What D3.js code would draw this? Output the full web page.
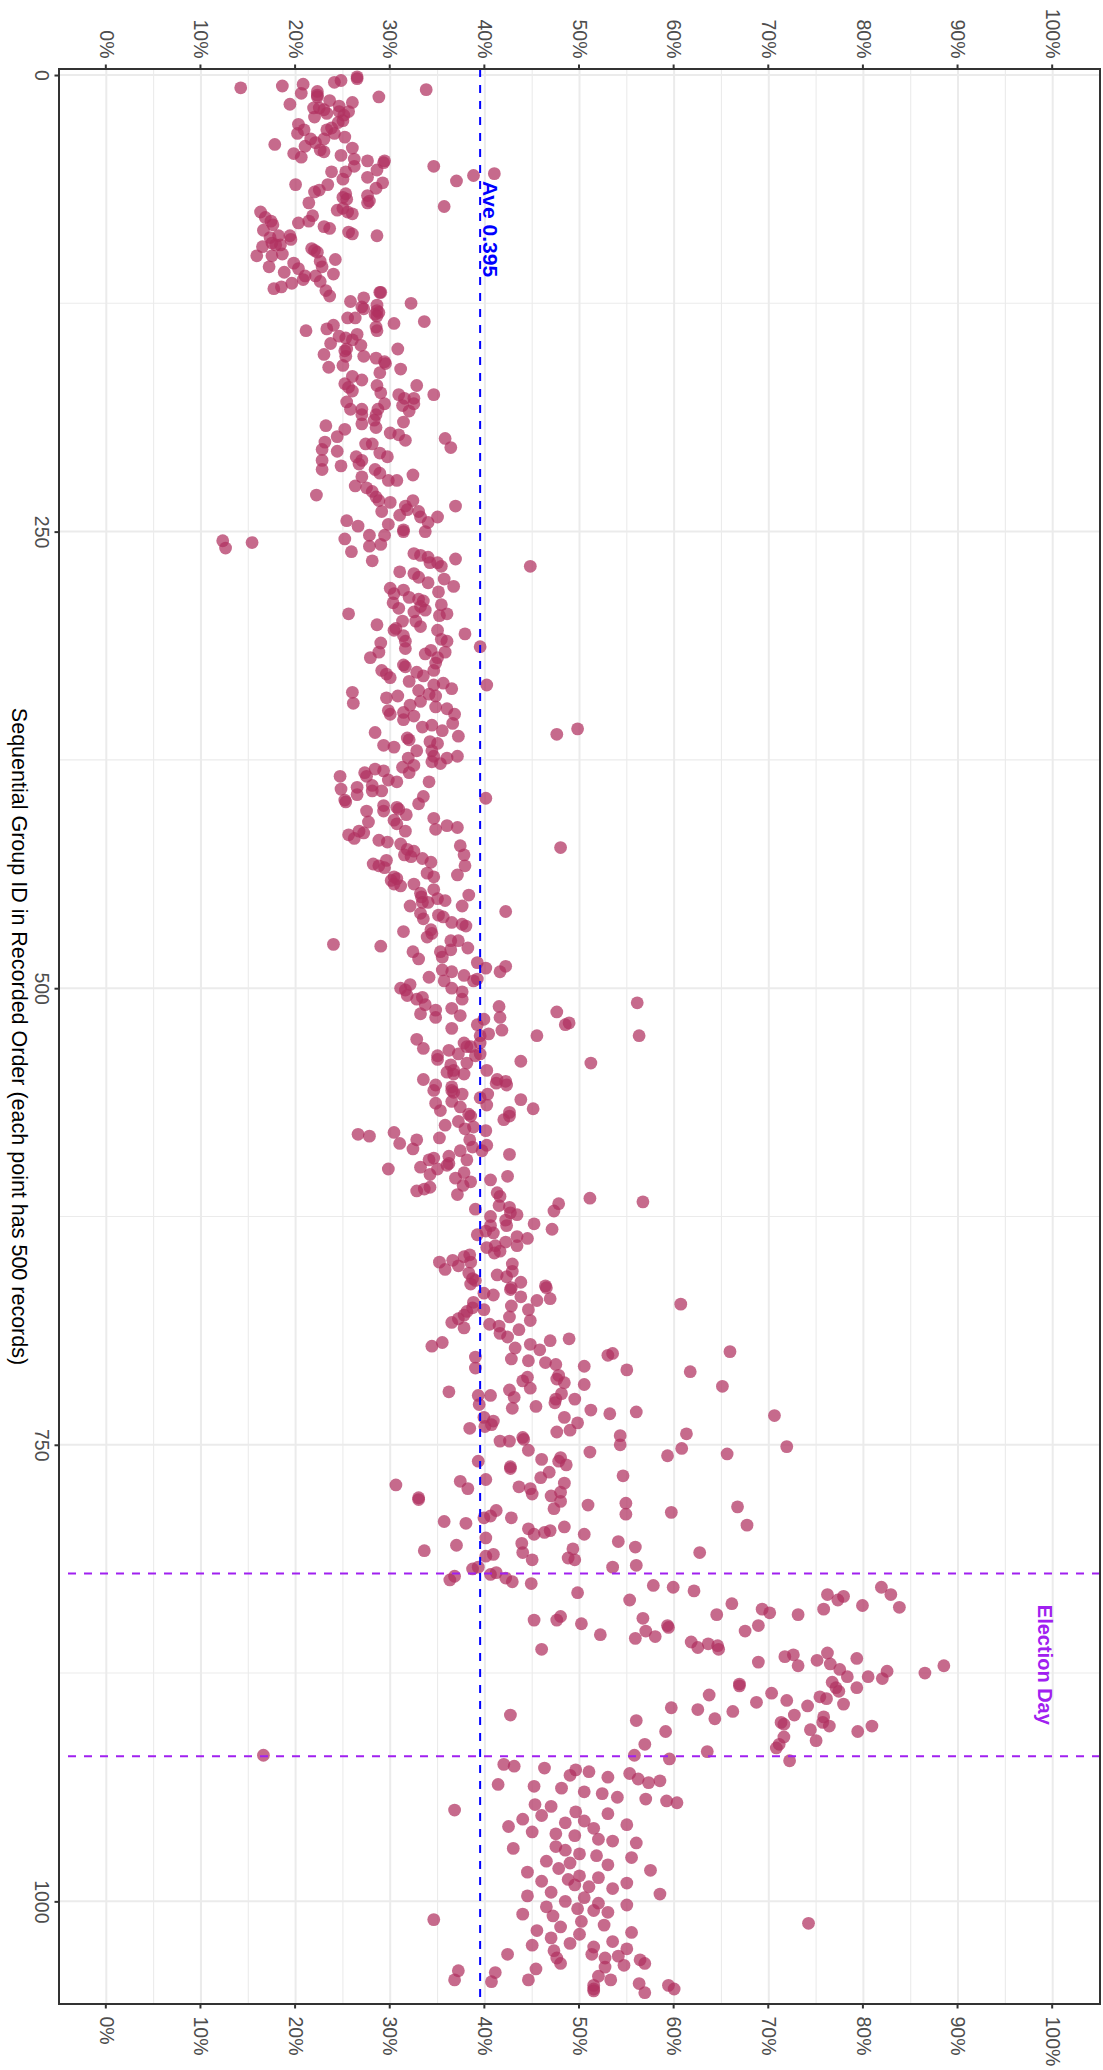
<!DOCTYPE html>
<html>
<head>
<meta charset="utf-8">
<script src="https://cdn.jsdelivr.net/npm/d3@7"></script>
<style>
  body { margin: 0; background: #fff; }
  svg { display: block; }
</style>
</head>
<body>
<svg id="chart" width="1103" height="2070"></svg>
<script>
// ---- data: [sequential group id, share %] ----
var earlyRun = [[1,26.5],[2,26.5],[3,24.8],[4,24.1],[5,20.8],[6,18.6],[7,14.2],[8,33.8],[9,22.3],[10,20.6],[11,22.3],[12,22.3],[12,28.8],[14,23.6],[15,26.0],[16,19.4],[17,24.6],[18,22.5],[18,21.9],[19,23.0],[20,24.6],[20,25.6],[21,23.3],[22,25.1],[23,22.0],[25,25.0],[26,24.5],[27,20.3],[29,23.8],[30,20.9],[30,23.3],[32,24.1],[32,20.2],[34,25.2],[35,23.0],[35,21.6],[37,22.1],[38,17.8],[39,21.0],[40,26.0],[41,22.6],[42,23.0],[43,19.8],[44,24.8],[45,20.6],[46,26.2],[47,27.6],[47,29.4],[48,29.3],[50,26.2],[50,34.6],[52,28.6],[53,23.8],[53,25.3],[54,41.0],[55,38.8],[56,27.6],[57,25.0],[58,37.0],[59,29.2],[60,20.0],[60,23.4],[62,28.5],[63,22.5],[64,22.0],[65,25.3],[66,27.6],[67,25.0],[68,25.4],[69,27.8],[70,27.6],[70,21.4],[72,35.7],[73,25.0],[74,24.4],[75,25.5],[75,16.3],[76,26.0],[77,21.8],[78,16.8],[80,21.4],[80,17.4],[81,20.3],[82,17.6],[83,23.0],[84,23.6],[85,16.6],[86,25.6],[87,26.0],[88,28.6],[88,18.2],[88,19.4],[89,17.3],
  [90,19.5],[92,17.5],[93,18.4],[93,17.9],[94,16.5],[95,21.7],[96,22.0],[97,22.3],[98,18.6],[99,15.9],[99,17.5],[101,24.2],[102,22.6],[103,19.8],[105,17.2],[105,22.8],[106,20.3],[108,18.8],[109,24.0],[110,22.1],[110,21.0],[112,20.8],[113,22.6],[114,19.6],[116,18.5],[117,17.7],[118,23.2],[119,28.9],[119,29.0],[121,23.6],[122,27.2],[124,25.8],[125,32.2],[126,28.6],[127,27.0],[128,27.2],[129,28.6],[130,28.8],[131,28.4],[132,28.6],[133,25.5],[133,26.3],[135,33.6],[136,30.4],[137,24.0],[139,23.3],[138,28.5],[140,21.1],[140,28.6],[142,26.5],[143,24.6],[144,25.3],[145,26.0],[147,23.7],[148,26.9],[150,25.4],[150,30.8],[151,25.2],[153,23.0],[154,25.3],[154,27.2],[155,28.5],[157,29.4],[158,29.5],[159,25.0],[160,23.5],[161,31.1],[163,28.9],[165,26.0],[167,27.0],[169,25.2],[170,32.8],[170,28.6],[171,25.6],[173,26.0],[174,29.0],[175,34.6],[175,30.9],[177,31.5],[177,32.5],[179,25.4],[180,32.5],[180,29.4],[181,31.3],[183,25.8],[183,28.7],[183,27.0],
  [184,32.0],[186,27.0],[186,28.5],[189,28.3],[190,31.4],[191,27.0],[192,23.2],[193,28.5],[194,25.2],[196,30.0],[197,30.9],[198,24.4],[199,35.8],[200,31.6],[201,23.1],[202,27.4],[202,28.1],[204,36.4],[205,22.8],[206,24.4],[207,28.9],[209,29.7],[209,26.4],[211,27.0],[211,22.8],[213,26.7],[214,24.8],[216,22.8],[216,28.4],[218,28.9],[219,32.4],[220,27.0],[222,29.8],[222,30.7],[225,26.3],[226,27.5],[228,28.1],[230,22.2],[231,28.5],[233,28.8],[233,32.4],[234,30.0],[236,36.9],[236,31.6],[238,31.8],[239,29.1],[239,33.0],[241,31.0],[242,35.0],[242,33.2],[244,25.4],[245,34.0],[246,29.8],[247,26.6],[249,31.4]];

var midRun = [[250,31.4],[250,33.7],[252,27.8],[252,29.4],[254,25.2],[255,12.3],[256,15.4],[257,29.0],[258,27.8],[259,12.6],[261,25.9],[262,32.5],[263,33.2],[264,34.0],[265,36.9],[266,28.1],[267,34.2],[267,35.0],[269,44.8],[269,35.4],[272,31.0],[273,32.5],[275,33.0],[276,35.7],
  [278,34.0],[280,36.7],[283,35.1],[281,30.0],[284,30.4],[282,31.4],[286,32.0],[287,33.0],[288,33.5],[291,33.2],[293,33.7],[289,30.3],[292,30.9],[290,35.4],[296,35.2],[295,36.0],[294,32.5],[299,32.7],[302,33.2],[299,31.3],[304,30.4],[303,30.6],[304,35.0],[309,35.4],[310,36.0],[307,31.4],[310,31.6],[314,31.6],[306,37.9],[313,39.5],[295,25.6],[301,28.6],[311,29.0],[316,28.8],[319,27.9],[317,33.7],[315,34.3],[319,35.0],[322,34.8],[326,34.6],[316,35.8],[323,31.4],[324,31.6],[326,29.1],[328,29.6],[330,30.0],[329,33.5],[327,32.8],[332,32.0],[337,33.0],[334,34.6],[333,35.6],[336,36.5],[334,40.2],[338,26.0],[344,26.1],[341,29.6],[340,30.8],[348,29.8],[350,30.0],[349,31.4],[353,31.4],[351,32.5],[345,32.1],[343,33.2],[339,34.1],[340,34.8],[346,34.8],[347,36.0],[350,36.8],[355,36.6],[359,35.5],[362,37.2],[357,33.4],[356,34.4],[365,34.2],[366,35.0],[360,28.4],[367,29.3],[368,30.4],[363,31.8],[364,32.0],[370,32.8],[361,47.6],[358,49.8],
  [370,34.4],[373,34.6],[373,37.1],[374,36.0],[374,31.9],[376,34.4],[377,35.3],[378,32.5],[379,31.3],[382,32.0],[380,28.4],[381,29.3],[382,27.3],[384,27.5],[384,24.7],[386,29.8],[387,30.7],[387,34.1],[389,28.1],[390,26.5],[391,24.8],[392,28.1],[392,29.1],[394,26.5],[395,33.5],[396,40.1],[397,25.2],[398,25.3],[399,33.0],[400,29.3],[401,30.7],[402,30.9],[403,29.3],[403,27.5],[405,31.7],[407,34.6],[408,30.4],[409,27.7],[410,30.7],[411,36.0],[412,37.1],[413,34.8],[414,31.6],[414,26.7],[415,27.2],[416,25.6],[418,26.2],[419,28.8],[420,29.7],[421,31.1],[422,37.4],[423,48.0],[424,31.8],[425,32.5],[427,31.5],[428,32.2],[427,37.8],[429,33.4],[430,29.6],[431,34.3],[432,28.2],[433,28.8],[434,29.4],[433,37.9],[437,33.9],[438,37.1],[439,34.6],[439,30.4],[440,30.7],[441,30.1],[443,30.4],[444,31.1],[443,32.5],[446,34.6],[448,33.2],[449,38.3],[450,33.3],[451,35.0],[452,35.8],
  [455,32.1],[455,37.6],[453,33.4],[453,34.0],[458,42.2],[460,35.1],[461,35.6],[459,33.2],[462,33.5],[464,36.5],[465,37.6],[466,38.0],[469,31.4],[468,34.3],[470,34.4],[472,33.9],[476,24.0],[477,29.0],[474,36.4],[474,37.2],[478,38.2],[480,32.4],[484,33.0],[480,35.3],[483,35.5],[479,36.4],[490,35.5],[486,39.2],[489,40.1],[491,41.6],[488,42.2],[495,39.2],[496,38.8],[494,34.1],[496,35.7],[491,36.5],[493,37.8],[498,32.1]];

var lateRun = [[500,31.1],[501,31.6],[504,31.8],[506,32.8],[505,33.4],[509,33.7],[512,34.8],[516,34.8],[514,33.2],[500,36.5],[502,37.6],[506,37.6],[511,36.5],[515,37.4],[522,36.5],[510,41.5],[516,41.6],[523,41.8],[517,39.9],[520,39.2],[525,40.4],[526,39.5],[513,47.6],[520,48.5],[519,48.9],[526,45.5],[508,56.1],[526,56.3],[528,32.8],[533,33.5],[537,35.0],[539,35.0],[534,36.2],[536,37.2],[530,37.8],[532,38.1],[532,38.5],[530,39.5],[536,39.5],[537,39.0],[542,36.4],[546,36.0],[547,36.7],[547,37.8],[541,38.1],[545,36.7],[545,40.2],[550,41.3],[551,42.2],[540,43.8],[541,51.2],[550,33.5],
  [553,34.8],[556,34.6],[556,36.5],[557,36.7],[558,37.6],[554,36.5],[552,41.2],[553,42.3],[560,39.5],[558,40.3],[564,40.2],[561,43.8],[566,45.1],[563,34.8],[567,35.3],[562,36.5],[565,37.4],[569,38.3],[570,38.5],[572,42.0],[570,42.6],[568,42.6],[573,37.2],[575,35.8],[577,37.9],[576,38.8],[578,40.1],[580,26.6],[581,27.8],[579,30.4],[585,31.0],[588,32.4],[583,32.8],[582,35.2],[583,38.4],[587,38.7],[589,39.7],[586,40.2],[589,37.4],[591,42.6],[594,34.1],[593,34.6],[592,36.2],[596,36.2],[594,38.1],[597,36.0],[599,29.8],[598,33.2],[602,34.2],[599,35.0],[604,36.9],[601,37.8],[606,38.5],[608,37.7],[613,37.1],[611,32.8],[610,33.6],[609,34.2],[605,40.6],[603,42.4],[621,39.0],[612,41.3],[614,41.6],[619,41.5],[620,42.6],[623,42.7],[624,43.4],[627,42.2],[630,42.3],[625,40.6],[630,40.6],[635,39.2],[633,40.1],[634,40.9],[636,43.4],[637,44.5],[618,47.8],[622,47.3],[632,47.1],[629,45.2],[615,51.1],[617,56.7],
  [642,40.2],[641,41.1],[645,41.0],[644,41.6],[639,42.2],[641,43.4],[650,35.2],[654,35.8],[649,36.6],[652,37.2],[647,37.8],[646,38.4],[650,38.5],[656,38.3],[659,38.7],[662,38.5],[660,39.0],[657,41.3],[658,42.3],[651,42.9],[655,42.9],[661,43.8],[665,42.7],[664,42.8],[663,46.4],[664,46.5],[670,46.9],[667,39.9],[668,40.9],[669,43.8],[671,45.5],[673,60.7],[672,38.8],[675,38.7],[676,39.9],[677,38.1],[679,37.8],[681,37.2],[683,36.5],[686,37.8],[674,42.8],[680,42.6],[676,44.6],[682,44.8],[684,40.5],[685,41.5],[689,41.6],[691,42.4],[687,43.6],[696,34.4],[694,35.5],[697,43.2],[695,44.8],[698,45.8],[693,46.9],[692,48.9],[701,53.0],[700,53.5],[699,65.9],[702,39.0],[708,39.0],[703,42.8],[704,44.6],[705,46.4],[706,47.5],[712,47.8],[714,47.6],[716,48.4],[713,44.5],[715,44.0],[719,44.8],[722,48.1],[707,50.5],[717,50.5],[709,55.0],[710,61.7],[718,65.1],[721,36.2],[723,39.3],[723,40.6],[720,42.6],[724,43.1],[725,49.5],[725,47.5],
  [728,39.4],[730,42.9],[729,45.4],[727,47.4],[731,51.2],[733,53.2],[732,56.0],[734,70.6],[735,39.9],[737,40.9],[739,40.7],[740,40.0],[741,38.4],[735,48.4],[738,49.8],[742,49.0],[743,47.6],[745,54.3],[750,54.3],[744,61.3],[748,41.6],[748,42.6],[746,44.0],[747,44.1],[753,44.6],[754,51.1],[756,59.3],[752,60.8],[755,65.6],[751,71.9],[759,39.3],[762,42.7],[763,42.7],[758,46.0],[757,48.0],[759,47.8],[761,48.6],[765,46.8],[768,45.9],[767,54.6],[772,30.6],[779,33.0],[780,33.0],[770,37.4],[774,38.2],[769,40.1],[773,43.6],[774,44.8],[777,45.0],[778,47.0],[776,48.0],[771,48.4],[781,48.0],[785,47.3],[783,50.9],[782,54.9],[788,54.9],[787,59.7],[784,66.7],[794,67.7],[792,35.7],[793,38.0],[790,39.9],[789,40.6],[786,41.2],[790,42.8],[801,40.1],[796,44.6],[799,45.2],[798,46.3],[797,46.9],[795,48.4],[799,50.5],[803,54.1],[806,55.9],[809,62.7],[808,33.6],[805,37.0],[804,43.9],[809,44.0],[807,49.3],[811,40.1],[810,40.9],[813,45.0],[812,48.8],[813,49.5],[817,53.5],[816,56.0],[818,38.7],[817,39.3]];

var electionRun = [[824,36.3],[822,36.8],[821,40.6],[820,41.2],[823,42.2],[825,42.9],[826,44.9],[831,49.8],[835,55.3],[827,57.8],[828,59.9],[830,62.1],[837,66.1],[843,64.5],[840,69.3],[842,70.1],[843,73.1],[840,75.8],[832,76.2],[835,77.3],[833,77.9],[838,79.9],[828,81.9],[832,82.9],[839,83.8],[846,45.2],[846,47.6],[844,48.0],[848,50.2],[854,52.2],[856,55.9],[845,56.7],[852,57.0],[855,58.0],[849,59.3],[850,59.4],[862,46.0],[858,61.8],[861,62.5],[859,63.6],[860,64.6],[862,64.7],[852,67.5],[849,68.9],[869,68.9],[866,71.7],[865,72.6],[871,73.1],[868,75.1],[864,76.2],[870,76.5],[867,79.3],[873,77.5],[877,78.3],[877,80.5],[878,82.0],[874,82.5],[875,86.5],[871,88.5],[881,66.9],[882,66.9],[880,76.7],[883,77.1],[885,77.4],[883,79.3],[888,75.4],[889,76.1],[892,77.9],[899,75.8],[902,75.7],[904,76.4],[904,80.9],[887,63.7],[891,68.7],[886,70.3],[890,71.9],[893,74.1],[898,72.7],[906,74.4],[894,59.7],[895,62.5],[900,64.3],[896,66.2],[898,42.7],[901,56.0],[902,71.3],[903,71.6],[907,79.4],[907,59.1],[910,71.6],[912,75.0],[914,71.1],[914,56.9],[916,70.8],[918,63.5],[920,55.8],[920,16.6]];

var finalRun = [[922,59.5],[923,72.2],[925,42.0],[926,43.1],[927,46.3],[928,49.6],[929,51.0],[931,49.0],[932,53.0],[930,55.3],[933,56.2],[934,58.5],[935,57.3],[936,41.4],[937,45.2],[938,48.1],[940,50.5],[941,52.4],[943,54.0],[944,57.0],[945,59.2],[946,60.3],[947,45.3],[948,47.0],[950,36.8],[951,49.6],[952,53.0],[953,46.0],[955,44.0],[956,50.5],[957,48.5],[958,55.0],[959,42.5],[960,51.5],[962,45.0],[963,47.5],[964,49.5],[966,52.0],[967,53.5],[968,56.0],[970,47.5],[971,43.0],[972,48.5],[974,50.0],[975,51.8],[976,55.5],[978,46.5],[979,49.0],[980,53.0],[982,47.8],[983,57.5],[984,44.5],[986,50.0],[987,52.0],[988,48.8],[989,46.0],[990,55.0],[991,49.5],[992,51.0],[993,53.5],[995,47.0],[996,58.5],[997,44.5],[998,50.5],[1000,48.5],[1001,52.0],[1002,55.0],[1003,46.5],[1004,49.8],[1005,51.5],[1006,53.0],[1007,44.0],[1008,47.2],[1010,34.6],[1011,50.2],[1012,74.2],[1013,52.6],[1014,48.0],[1016,45.5],[1017,55.5],[1018,50.0],[1020,47.0],[1022,53.5],[1023,49.0],[1024,45.0],[1025,51.5],[1026,55.0],[1027,47.3],[1029,42.4],[1029,51.3],[1030,54.1],[1031,47.6],[1031,52.7],[1032,56.4],[1034,56.9],[1034,48.0],[1035,54.7],[1036,52.7],[1037,45.4],[1038,37.2],[1039,41.1],[1041,52.0],[1043,36.8],[1043,44.6],[1043,53.3],[1044,40.7],[1045,56.3],[1046,51.5],[1046,59.4],[1048,60.0],[1048,51.5],[1049,51.5],[1050,56.9]];

var groupBreaks = [0, 250, 500, 750, 1000];
var groupMinor = [125, 375, 625, 875];
var pctBreaks = [0, 0.1, 0.2, 0.3, 0.4, 0.5, 0.6, 0.7, 0.8, 0.9, 1];
var pctMinor = [0.05, 0.15, 0.25, 0.35, 0.45, 0.55, 0.65, 0.75, 0.85, 0.95];
var avgShare = 0.395;
var electionBounds = [820.5, 920.5];

var allPoints = earlyRun.concat(midRun, lateRun, electionRun, finalRun);

//////////////////////// D3 STUFF
// the plot is laid out flat (2070 wide, 1103 tall) and then turned 90deg clockwise
var FONT = "'Liberation Sans', Arial, Helvetica, sans-serif";
var W = 2070, H = 1103;
var panel = {left: 69, right: 2004, top: 3, bottom: 1044};

var svg = d3.select("#chart");
var plot = svg.append("g")
  .attr("transform", "translate(" + H + ",0) rotate(90)");

var x = d3.scaleLinear().domain([-3.3, 1056.2]).range([panel.left, panel.right]);
var y = d3.scaleLinear().domain([-0.05, 1.05]).range([panel.bottom, panel.top]);

// grid
var grid = plot.append("g");
grid.selectAll(".vminor").data(groupMinor).enter().append("line")
  .attr("x1", x).attr("x2", x).attr("y1", panel.top).attr("y2", panel.bottom)
  .attr("stroke", "#ebebeb").attr("stroke-width", 1.1);
grid.selectAll(".hminor").data(pctMinor).enter().append("line")
  .attr("y1", y).attr("y2", y).attr("x1", panel.left).attr("x2", panel.right)
  .attr("stroke", "#ebebeb").attr("stroke-width", 1.1);
grid.selectAll(".vmajor").data(groupBreaks).enter().append("line")
  .attr("x1", x).attr("x2", x).attr("y1", panel.top).attr("y2", panel.bottom)
  .attr("stroke", "#ebebeb").attr("stroke-width", 2);
grid.selectAll(".hmajor").data(pctBreaks).enter().append("line")
  .attr("y1", y).attr("y2", y).attr("x1", panel.left).attr("x2", panel.right)
  .attr("stroke", "#ebebeb").attr("stroke-width", 2);

// points
plot.append("g").selectAll("circle")
  .data(allPoints)
  .enter()
  .append("circle")
    .attr("cx", function(d) { return x(d[0]); })
    .attr("cy", function(d) { return y(d[1] / 100); })
    .attr("r", 6.4)
    .style("fill", "#b03060")
    .style("opacity", 0.72);

// average line
plot.append("line")
  .attr("x1", panel.left).attr("x2", panel.right)
  .attr("y1", y(avgShare)).attr("y2", y(avgShare))
  .attr("stroke", "#0000ff").attr("stroke-width", 2)
  .attr("stroke-dasharray", "8,8");

plot.append("text")
  .attr("x", x(58)).attr("y", y(avgShare) - 3)
  .attr("fill", "#0000ff")
  .style("font-family", FONT).style("font-size", "21px").style("font-weight", "bold")
  .text("Ave 0.395");

// election window
plot.selectAll(".election").data(electionBounds).enter().append("line")
  .attr("x1", x).attr("x2", x).attr("y1", panel.top).attr("y2", panel.bottom)
  .attr("stroke", "#a020f0").attr("stroke-width", 2)
  .attr("stroke-dasharray", "8,8");

plot.append("text")
  .attr("x", x(d3.mean(electionBounds))).attr("y", y(1) + 15)
  .attr("text-anchor", "middle")
  .attr("fill", "#a020f0")
  .style("font-family", FONT).style("font-size", "20px").style("font-weight", "bold")
  .text("Election Day");

// axes
function styleAxis(sel) {
  sel.select(".domain").remove();
  sel.selectAll(".tick line").attr("stroke", "#333333").attr("stroke-width", 2);
  sel.selectAll(".tick text")
    .attr("fill", "#4d4d4d")
    .style("font-family", FONT)
    .style("font-size", "19.5px");
}

plot.append("g")
  .attr("transform", "translate(" + panel.left + ",0)")
  .call(d3.axisLeft(y).tickValues(pctBreaks).tickFormat(d3.format(".0%")).tickSize(4.5).tickPadding(6))
  .call(styleAxis);

plot.append("g")
  .attr("transform", "translate(" + panel.right + ",0)")
  .call(d3.axisRight(y).tickValues(pctBreaks).tickFormat(d3.format(".0%")).tickSize(4.5).tickPadding(8))
  .call(styleAxis);

plot.append("g")
  .attr("transform", "translate(0," + panel.bottom + ")")
  .call(d3.axisBottom(x).tickValues(groupBreaks).tickFormat(d3.format("d")).tickSize(4.5).tickPadding(6))
  .call(styleAxis);

plot.append("text")
  .attr("x", (panel.left + panel.right) / 2).attr("y", 1091)
  .attr("text-anchor", "middle")
  .attr("fill", "#000")
  .style("font-family", FONT).style("font-size", "21.5px")
  .text("Sequential Group ID in Recorded Order (each point has 500 records)");

// panel border on top
plot.append("rect")
  .attr("x", panel.left).attr("y", panel.top)
  .attr("width", panel.right - panel.left).attr("height", panel.bottom - panel.top)
  .attr("fill", "none").attr("stroke", "#333333").attr("stroke-width", 2);
</script>
</body>
</html>
